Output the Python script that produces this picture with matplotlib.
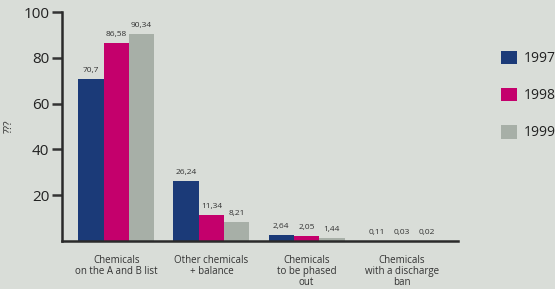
import numpy as np
import matplotlib
matplotlib.use('Agg')
import matplotlib.pyplot as plt

# values
categories = ['Chemicals\non the A and B list', 'Other chemicals\n+ balance',
              'Chemicals\nto be phased\nout', 'Chemicals\nwith a discharge\nban']
years = ['1997', '1998', '1999']
v1997 = [70.7, 26.24, 2.64, 0.11]
v1998 = [86.58, 11.34, 2.05, 0.03]
v1999 = [90.34, 8.21, 1.44, 0.02]
colors = ['#1b3a78', '#c4006c', '#a7afa7']
bg = '#d9ddd8'

plt.rcParams['font.family'] = ['Open Sans', 'DejaVu Sans']

fig = plt.figure(figsize=(5.55, 2.89), dpi=100, facecolor=bg)
ax = fig.add_axes([62/555, 1-241/289, (458-62)/555, (241-12)/289])
ax.set_facecolor(bg)

x = np.arange(len(categories))
w = 0.266
for i, vals in enumerate([v1997, v1998, v1999]):
    pos = x + (i-1)*w
    ax.bar(pos, vals, w, color=colors[i], label=years[i])
    for p, v in zip(pos, vals):
        txt = ('%g' % v).replace('.', ',')
        ax.annotate(txt, (p, v), xytext=(0, 3.5), textcoords='offset points',
                    ha='center', va='bottom', fontsize=6, color='#333333')

ax.set_xlim(-0.57, 3.59)
ax.set_ylim(0, 100)
ax.set_yticks([20, 40, 60, 80, 100])
ax.set_xticks(x)
ax.set_xticklabels(categories, fontsize=7, color='#333333', linespacing=1.02)
ax.tick_params(axis='x', length=0, pad=10)
ax.tick_params(axis='y', length=7.2, width=1.8, color='#333333', labelsize=11,
               labelcolor='#222222', pad=2)
for s in ['top', 'right']:
    ax.spines[s].set_visible(False)
for s in ['left', 'bottom']:
    ax.spines[s].set_linewidth(1.8)
    ax.spines[s].set_color('#2a2a2a')
ax.set_ylabel('???', fontsize=7.5, color='#333333')
ax.yaxis.set_label_coords(-(62-15)/396, 0.5)

leg = ax.legend(loc='upper left', bbox_to_anchor=(495/555, 1-45/289),
                bbox_transform=fig.transFigure, frameon=False, fontsize=10,
                handlelength=1.15, handleheight=1.15, labelspacing=1.55,
                handletextpad=0.55, borderaxespad=0)
for t in leg.get_texts():
    t.set_color('#222222')

fig.savefig('out.png', dpi=100, facecolor=bg)
